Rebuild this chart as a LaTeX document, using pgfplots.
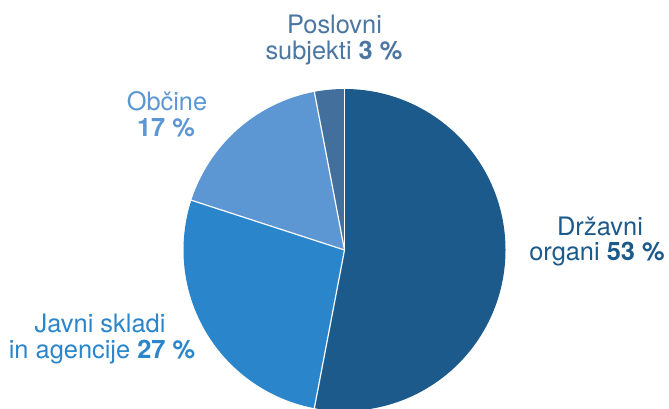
\documentclass[border=0pt]{standalone}
\usepackage{pgfplots}
\usepackage{pgfplotstable}
\pgfplotsset{compat=1.18}
\usepackage{fontspec}
\setmainfont{TeX Gyre Heros}
\definecolor{cDrz}{HTML}{1B5A8A}
\definecolor{cJav}{HTML}{2A85CA}
\definecolor{cObc}{HTML}{5D97D3}
\definecolor{cPos}{HTML}{436F9C}
\definecolor{tPos}{HTML}{4B76A2}
\newcommand{\labfont}{\fontsize{25.5}{27}\selectfont}
\tikzset{lab/.style={font=\labfont, anchor=base, inner sep=0pt}}
\pgfplotstableread[col sep=comma]{
share,col
53,cDrz
27,cJav
17,cObc
3,cPos
}\piedata
\begin{document}
\begin{tikzpicture}
\begin{axis}[
  x=1bp, y=1bp, scale only axis,
  xmin=0, xmax=669, ymin=0, ymax=408,
  hide axis, clip=true
]
\pgfplotsextra{%
  \path (axis cs:0,0) rectangle (axis cs:669,408);
  \begin{scope}
  \clip (axis cs:0,0) rectangle (axis cs:669,408);
  \gdef\curang{90}%
  \foreach \i in {0,1,2,3}{%
    \pgfplotstablegetelem{\i}{share}\of\piedata \let\sh\pgfplotsretval
    \pgfplotstablegetelem{\i}{col}\of\piedata \let\cl\pgfplotsretval
    \pgfmathsetmacro\endang{\curang-3.6*\sh}%
    \fill[fill=\cl] (axis cs:344.5,158) -- ++(\curang:161bp) arc[start angle=\curang, end angle=\endang, radius=161bp] -- cycle;
    \xdef\curang{\endang}%
  }%
  \gdef\curang{90}%
  \foreach \i in {0,1,2,3}{%
    \pgfplotstablegetelem{\i}{share}\of\piedata \let\sh\pgfplotsretval
    \draw[white, line width=1.2pt] (axis cs:344.5,158) -- ++(\curang:162bp);
    \pgfmathsetmacro\endang{\curang-3.6*\sh}%
    \xdef\curang{\endang}%
  }%
  \end{scope}
}
\node[lab, text=tPos] at (axis cs:334.5,375) {Poslovni};
\node[lab, text=tPos] at (axis cs:334,349) {subjekti \textbf{3 \%}};
\node[lab, text=cObc] at (axis cs:167,298) {Občine};
\node[lab, text=cObc] at (axis cs:166,272) {\textbf{17 \%}};
\node[lab, text=cDrz] at (axis cs:600,173) {Državni};
\node[lab, text=cDrz] at (axis cs:597,148) {organi \textbf{53 \%}};
\node[lab, text=cJav] at (axis cs:100,76) {Javni skladi};
\node[lab, text=cJav] at (axis cs:102,50) {in agencije \textbf{27 \%}};
\end{axis}
\end{tikzpicture}
\end{document}
